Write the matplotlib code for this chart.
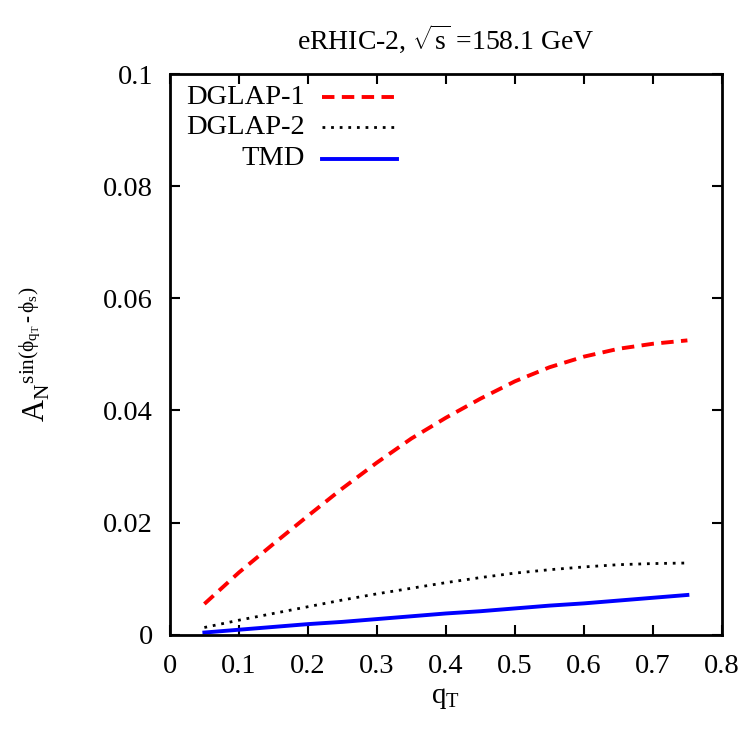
import matplotlib
matplotlib.use('Agg')
import matplotlib.pyplot as plt

# Asymmetry vs q_T (gnuplot look)

qt = [0.05, 0.1, 0.15, 0.2, 0.25, 0.3, 0.35, 0.4, 0.45, 0.5, 0.55, 0.6, 0.65, 0.7, 0.75]

dglap1 = [0.0055, 0.0111, 0.0162, 0.0212, 0.0261, 0.0307, 0.0350, 0.0387, 0.0421,
          0.0452, 0.0477, 0.0496, 0.0510, 0.0519, 0.0525]
dglap2 = [0.0013, 0.0026, 0.0038, 0.0050, 0.0062, 0.0073, 0.0083, 0.0093, 0.0102,
          0.0110, 0.0116, 0.0121, 0.0125, 0.0127, 0.0128]
tmd = [0.0004, 0.0009, 0.0014, 0.0019, 0.0023, 0.0028, 0.0033, 0.0038, 0.0042,
       0.0047, 0.0052, 0.0056, 0.0061, 0.0066, 0.0071]

names = ['DGLAP-1', 'DGLAP-2', 'TMD']

xticks = [0, 0.1, 0.2, 0.3, 0.4, 0.5, 0.6, 0.7, 0.8]
xticklabels = ['0', '0.1', '0.2', '0.3', '0.4', '0.5', '0.6', '0.7', '0.8']
yticks = [0, 0.02, 0.04, 0.06, 0.08, 0.1]
yticklabels = ['0', '0.02', '0.04', '0.06', '0.08', '0.1']

plt.rcParams['font.family'] = 'Liberation Serif'
plt.rcParams['mathtext.fontset'] = 'custom'
plt.rcParams['mathtext.rm'] = 'Liberation Serif'
plt.rcParams['mathtext.it'] = 'Liberation Serif'
plt.rcParams['mathtext.sf'] = 'Liberation Serif'

fs = 20.5

fig = plt.figure(figsize=(7.45, 7.33), dpi=100)
ax = fig.add_axes([0.228, 0.134, 0.741, 0.765])

# styles: red dashes, black dots, blue solid
styles = [
    dict(color='#ff0000', lw=2.8, ls=(0, (3.2, 1.9))),
    dict(color='black', lw=2.0, ls=(0, (1, 2.1))),
    dict(color='#0000ff', lw=2.8, ls='-'),
]
series = [dglap1, dglap2, tmd]

for s, st in zip(series, styles):
    ax.plot(qt, s, **st)

# gnuplot-like key: text right aligned, sample to the right
key_y = [0.959, 0.9055, 0.8485]
for name, st, ky in zip(names, styles, key_y):
    ax.text(0.2446, ky, name, transform=ax.transAxes, ha='right', va='center', fontsize=fs)
    ax.plot([0.2754, 0.4112], [ky, ky], transform=ax.transAxes, **st)

ax.set_xlim(0, 0.8)
ax.set_ylim(0, 0.1)
ax.set_xticks(xticks)
ax.set_xticklabels(xticklabels)
ax.set_yticks(yticks)
ax.set_yticklabels(yticklabels)
ax.tick_params(direction='in', length=7, width=1.5, top=True, right=True, labelsize=fs)
ax.tick_params(axis='x', pad=14)
ax.tick_params(axis='y', pad=12)
for sp in ax.spines.values():
    sp.set_linewidth(2)

ax.set_xlabel(r'$\mathrm{q_T}$', fontsize=21, labelpad=4)
ax.set_ylabel(r'$\mathrm{A_N}{}^{\mathrm{sin}(\phi_{\mathrm{q_T}}\,\text{-}\,\phi_{\mathrm{s}})}$', fontsize=22)
ax.yaxis.set_label_coords(-0.212, 0.5)
ax.set_title(r'eRHIC-2, $\sqrt{\mathrm{s}}$ =158.1 GeV', fontsize=20, pad=18)

plt.savefig('out.png')
